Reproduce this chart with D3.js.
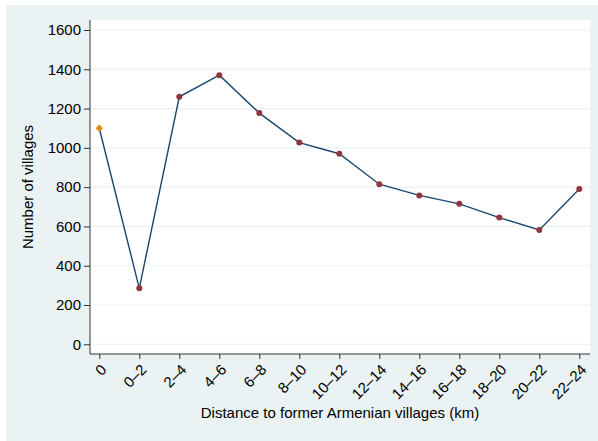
<!DOCTYPE html>
<html>
<head>
<meta charset="utf-8">
<script src="https://cdn.jsdelivr.net/npm/d3@7"></script>
<style>
  body { margin: 0; background: #fff; }
  svg { display: block; font-family: "Liberation Sans", Arial, sans-serif; }
</style>
</head>
<body>
<svg width="598" height="441"></svg>
<script>
// distance bins and number of villages in each
var categories = ["0", "0\u20132", "2\u20134", "4\u20136", "6\u20138", "8\u201310", "10\u201312",
                  "12\u201314", "14\u201316", "16\u201318", "18\u201320", "20\u201322", "22\u201324"];
var villages = [1100, 285, 1260, 1370, 1177, 1027, 970, 815, 758, 715, 645, 582, 791];
var yTicks = [0, 200, 400, 600, 800, 1000, 1200, 1400, 1600];

var svg = d3.select("svg");

var bg = "#eaf2f3";
var font = "'Liberation Sans', Arial, sans-serif";
var plotL = 90, plotR = 590, plotT = 20, plotB = 354;

svg.append("rect").attr("x", 6).attr("y", 5).attr("width", 592).attr("height", 436).attr("fill", bg);
svg.append("rect").attr("x", plotL).attr("y", plotT).attr("width", plotR - plotL).attr("height", plotB - plotT).attr("fill", "#fff");

var x = d3.scalePoint()
    .domain(d3.range(categories.length))
    .range([99.3, 579.3]);

var y = d3.scaleLinear()
    .domain([0, 1600])
    .range([344.3, 30]);

// gridlines
svg.append("g").selectAll("line")
  .data(yTicks)
  .enter().append("line")
    .attr("x1", plotL).attr("x2", plotR)
    .attr("y1", function(d) { return y(d); })
    .attr("y2", function(d) { return y(d); })
    .attr("stroke", bg).attr("stroke-width", 1.2);

// y axis
var yAxis = svg.append("g")
    .attr("transform", "translate(" + plotL + ",0)")
    .call(d3.axisLeft(y).tickValues(yTicks).tickFormat(d3.format("d")).tickSize(6).tickPadding(3).tickSizeOuter(0));
yAxis.select(".domain").attr("d", "M0," + plotT + "V" + plotB).attr("stroke", "#333");
yAxis.selectAll(".tick line").attr("stroke", "#333");
yAxis.selectAll("text").attr("font-size", 15).attr("font-family", font).attr("fill", "#000");

// x axis
var xAxis = svg.append("g")
    .attr("transform", "translate(0," + plotB + ")")
    .call(d3.axisBottom(x).tickFormat(function(i) { return categories[i]; }).tickSize(5).tickSizeOuter(0));
xAxis.select(".domain").attr("d", "M" + plotL + ",0H" + plotR).attr("stroke", "#333");
xAxis.selectAll(".tick line").attr("stroke", "#333");
xAxis.selectAll("text")
    .attr("font-size", 15)
    .attr("font-family", font)
    .attr("fill", "#000")
    .attr("text-anchor", "end")
    .attr("dy", "0.35em")
    .attr("y", 0)
    .attr("transform", "translate(4,13) rotate(-45)");

// line
var line = d3.line()
    .x(function(d, i) { return x(i); })
    .y(function(d) { return y(d); });

svg.append("path")
    .datum(villages)
    .attr("d", line)
    .attr("fill", "none")
    .attr("stroke", "#1a476f")
    .attr("stroke-width", 1.4);

// markers
svg.append("g").selectAll("circle")
  .data(villages.slice(1))
  .enter().append("circle")
    .attr("cx", function(d, i) { return x(i + 1); })
    .attr("cy", function(d) { return y(d); })
    .attr("r", 3)
    .attr("fill", "#90353b");

svg.append("path")
    .attr("d", d3.symbol().type(d3.symbolDiamond2).size(34)())
    .attr("transform", "translate(" + x(0) + "," + y(villages[0]) + ")")
    .attr("fill", "#e8850c");

// axis titles
svg.append("text")
    .attr("x", (plotL + plotR) / 2)
    .attr("y", 418)
    .attr("text-anchor", "middle")
    .attr("font-size", 15)
    .attr("font-family", font)
    .text("Distance to former Armenian villages (km)");

svg.append("text")
    .attr("transform", "translate(33," + ((plotT + plotB) / 2) + ") rotate(-90)")
    .attr("text-anchor", "middle")
    .attr("font-size", 15)
    .attr("font-family", font)
    .text("Number of villages");
</script>
</body>
</html>
